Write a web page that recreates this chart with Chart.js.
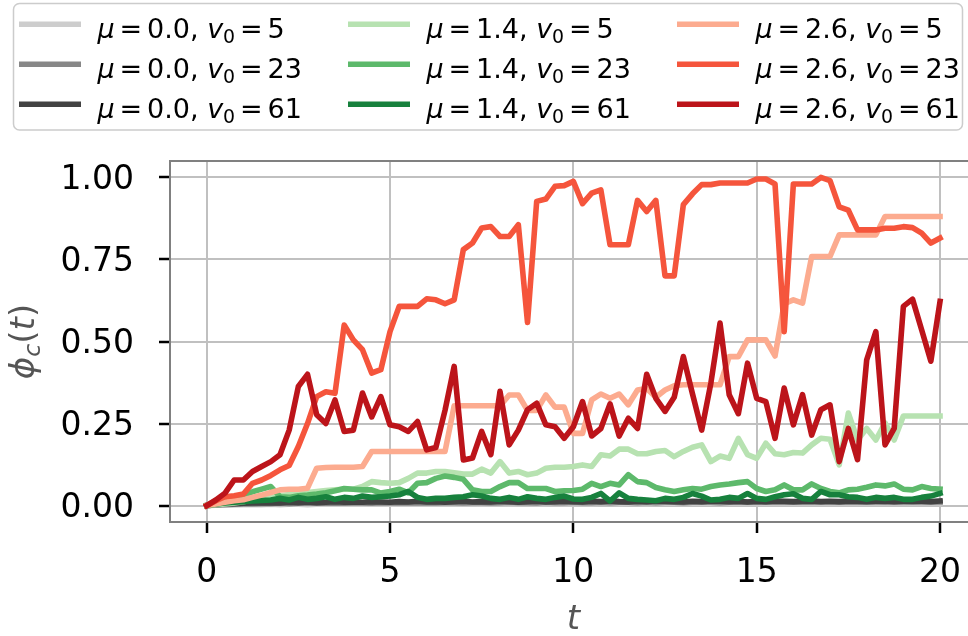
<!DOCTYPE html>
<html>
<head>
<meta charset="utf-8">
<script src="https://cdn.jsdelivr.net/npm/chart.js@4"></script>
<style>
  html, body { margin: 0; padding: 0; background: #fff; overflow: hidden; }
  #wrap { width: 968px; height: 636px; overflow: hidden; }
</style>
</head>
<body>
<div id="wrap"><canvas id="phiChart" width="1000" height="636"></canvas></div>
<script>
// time axis (t), one sample every 0.25
const times = [
  0, 0.25, 0.5, 0.75, 1, 1.25, 1.5, 1.75, 2, 2.25,
  2.5, 2.75, 3, 3.25, 3.5, 3.75, 4, 4.25, 4.5, 4.75,
  5, 5.25, 5.5, 5.75, 6, 6.25, 6.5, 6.75, 7, 7.25,
  7.5, 7.75, 8, 8.25, 8.5, 8.75, 9, 9.25, 9.5, 9.75,
  10, 10.25, 10.5, 10.75, 11, 11.25, 11.5, 11.75, 12, 12.25,
  12.5, 12.75, 13, 13.25, 13.5, 13.75, 14, 14.25, 14.5, 14.75,
  15, 15.25, 15.5, 15.75, 16, 16.25, 16.5, 16.75, 17, 17.25,
  17.5, 17.75, 18, 18.25, 18.5, 18.75, 19, 19.25, 19.5, 19.75,
  20
];

const muLabels = ['0.0', '1.4', '2.6'];
const v0Labels = [5, 23, 61];

// mu = 0.0
const phiMu0V5 = [
  0, 0.001, 0.002, 0.002, 0.003, 0.003, 0.003, 0.004, 0.003, 0.004,
  0.004, 0.003, 0.004, 0.005, 0.004, 0.004, 0.005, 0.004, 0.005, 0.005,
  0.004, 0.005, 0.005, 0.006, 0.005, 0.005, 0.006, 0.005, 0.006, 0.006,
  0.005, 0.006, 0.006, 0.005, 0.006, 0.007, 0.006, 0.006, 0.007, 0.006,
  0.006, 0.007, 0.006, 0.007, 0.007, 0.006, 0.007, 0.007, 0.006, 0.007,
  0.007, 0.008, 0.007, 0.007, 0.008, 0.007, 0.007, 0.008, 0.007, 0.008,
  0.008, 0.007, 0.008, 0.008, 0.007, 0.008, 0.008, 0.009, 0.008, 0.008,
  0.009, 0.008, 0.008, 0.009, 0.008, 0.009, 0.009, 0.008, 0.009, 0.009,
  0.009
];
const phiMu0V23 = [
  0, 0.002, 0.003, 0.004, 0.005, 0.005, 0.006, 0.006, 0.007, 0.006,
  0.007, 0.007, 0.008, 0.007, 0.008, 0.007, 0.008, 0.008, 0.007, 0.009,
  0.008, 0.008, 0.009, 0.008, 0.009, 0.008, 0.009, 0.009, 0.008, 0.009,
  0.009, 0.008, 0.009, 0.01, 0.009, 0.009, 0.008, 0.01, 0.009, 0.009,
  0.01, 0.009, 0.009, 0.01, 0.009, 0.01, 0.01, 0.009, 0.01, 0.009,
  0.01, 0.01, 0.009, 0.01, 0.011, 0.01, 0.009, 0.01, 0.01, 0.011,
  0.01, 0.01, 0.011, 0.01, 0.01, 0.011, 0.01, 0.011, 0.011, 0.01,
  0.011, 0.01, 0.011, 0.011, 0.01, 0.011, 0.011, 0.01, 0.011, 0.011,
  0.011
];
const phiMu0V61 = [
  0, 0.003, 0.005, 0.006, 0.007, 0.008, 0.008, 0.009, 0.008, 0.01,
  0.009, 0.011, 0.009, 0.01, 0.012, 0.01, 0.011, 0.01, 0.012, 0.011,
  0.01, 0.012, 0.011, 0.013, 0.011, 0.012, 0.01, 0.012, 0.013, 0.011,
  0.012, 0.011, 0.013, 0.012, 0.01, 0.012, 0.013, 0.011, 0.012, 0.013,
  0.012, 0.011, 0.013, 0.012, 0.014, 0.012, 0.011, 0.013, 0.012, 0.014,
  0.013, 0.012, 0.011, 0.013, 0.012, 0.014, 0.013, 0.012, 0.013, 0.011,
  0.013, 0.012, 0.014, 0.013, 0.012, 0.013, 0.014, 0.012, 0.013, 0.012,
  0.014, 0.013, 0.012, 0.013, 0.014, 0.012, 0.013, 0.014, 0.013, 0.012,
  0.014
];

// mu = 1.4
const phiMu14V5 = [
  0, 0.003, 0.005, 0.008, 0.012, 0.017, 0.022, 0.026, 0.03, 0.034,
  0.038, 0.04, 0.043, 0.046, 0.048, 0.05, 0.05, 0.058, 0.073, 0.07,
  0.068, 0.07, 0.083, 0.099, 0.099, 0.104, 0.104, 0.1, 0.096, 0.096,
  0.111, 0.099, 0.134, 0.099, 0.104, 0.094, 0.099, 0.114, 0.117, 0.117,
  0.119, 0.124, 0.119, 0.155, 0.151, 0.172, 0.172, 0.158, 0.158, 0.165,
  0.168, 0.149, 0.165, 0.178, 0.185, 0.134, 0.151, 0.144, 0.205, 0.155,
  0.144, 0.19, 0.158, 0.155, 0.162, 0.16, 0.185, 0.205, 0.202, 0.124,
  0.282, 0.2, 0.235, 0.2, 0.252, 0.2, 0.273, 0.273, 0.273, 0.273,
  0.273
];
const phiMu14V23 = [
  0, 0.005, 0.012, 0.022, 0.032, 0.042, 0.05, 0.058, 0.027, 0.025,
  0.03, 0.032, 0.035, 0.039, 0.045, 0.052, 0.05, 0.048, 0.048, 0.038,
  0.043, 0.05, 0.039, 0.068, 0.07, 0.083, 0.09, 0.086, 0.08, 0.048,
  0.043, 0.043, 0.058, 0.07, 0.07, 0.052, 0.052, 0.052, 0.043, 0.045,
  0.046, 0.05, 0.068, 0.058, 0.068, 0.063, 0.094, 0.073, 0.07, 0.055,
  0.048, 0.043, 0.048, 0.052, 0.05, 0.058, 0.063, 0.066, 0.07, 0.073,
  0.052, 0.043, 0.048, 0.063, 0.048, 0.048, 0.066, 0.052, 0.043, 0.039,
  0.048, 0.05, 0.056, 0.063, 0.06, 0.066, 0.05, 0.048, 0.058, 0.052,
  0.05
];
const phiMu14V61 = [
  0, 0.005, 0.008, 0.01, 0.012, 0.014, 0.016, 0.017, 0.022, 0.017,
  0.025, 0.019, 0.022, 0.027, 0.019, 0.025, 0.022, 0.029, 0.025, 0.027,
  0.029, 0.033, 0.043, 0.025, 0.019, 0.022, 0.022, 0.025, 0.027, 0.033,
  0.029, 0.022, 0.019, 0.025, 0.019, 0.027, 0.022, 0.019, 0.025, 0.029,
  0.02, 0.019, 0.025, 0.037, 0.014, 0.039, 0.022, 0.019, 0.017, 0.015,
  0.022, 0.019, 0.025, 0.037, 0.029, 0.017, 0.019, 0.025, 0.022, 0.037,
  0.022, 0.019, 0.027, 0.033, 0.036, 0.022, 0.019, 0.043, 0.033, 0.033,
  0.027, 0.025, 0.019, 0.025, 0.022, 0.025, 0.019, 0.019, 0.025, 0.029,
  0.037
];

// mu = 2.6
const phiMu26V5 = [
  0, 0.005, 0.01, 0.015, 0.018, 0.025, 0.032, 0.04, 0.048, 0.05,
  0.05, 0.053, 0.114, 0.116, 0.117, 0.117, 0.117, 0.119, 0.165, 0.165,
  0.165, 0.165, 0.165, 0.165, 0.165, 0.165, 0.165, 0.304, 0.304, 0.304,
  0.304, 0.304, 0.304, 0.337, 0.337, 0.29, 0.29, 0.337, 0.3, 0.3,
  0.22, 0.22, 0.322, 0.34, 0.327, 0.34, 0.307, 0.352, 0.357, 0.33,
  0.352, 0.365, 0.368, 0.368, 0.368, 0.368, 0.368, 0.454, 0.454, 0.505,
  0.505, 0.505, 0.456, 0.615, 0.627, 0.617, 0.759, 0.759, 0.759, 0.825,
  0.825, 0.825, 0.825, 0.825, 0.881, 0.881, 0.881, 0.881, 0.881, 0.881,
  0.881
];
const phiMu26V23 = [
  0, 0.015, 0.027, 0.03, 0.035, 0.068, 0.078, 0.092, 0.109, 0.122,
  0.18, 0.25, 0.332, 0.347, 0.342, 0.55, 0.505, 0.475, 0.404, 0.414,
  0.53, 0.607, 0.607, 0.607, 0.63, 0.627, 0.615, 0.627, 0.78, 0.8,
  0.846, 0.85, 0.82, 0.82, 0.856, 0.558, 0.927, 0.934, 0.973, 0.975,
  0.988, 0.92, 0.952, 0.962, 0.795, 0.795, 0.795, 0.93, 0.896, 0.93,
  0.7, 0.7, 0.917, 0.95, 0.978, 0.978, 0.983, 0.983, 0.983, 0.983,
  0.995, 0.995, 0.98, 0.53, 0.98, 0.98, 0.98, 1.0, 0.99, 0.91,
  0.9, 0.84, 0.84, 0.84, 0.845, 0.845, 0.85, 0.847, 0.83, 0.8,
  0.815
];
const phiMu26V61 = [
  0, 0.017, 0.038, 0.078, 0.078, 0.104, 0.119, 0.134, 0.155, 0.23,
  0.363, 0.4, 0.277, 0.25, 0.322, 0.226, 0.23, 0.343, 0.27, 0.332,
  0.246, 0.24, 0.226, 0.256, 0.17, 0.177, 0.29, 0.424, 0.139, 0.145,
  0.226, 0.155, 0.348, 0.185, 0.23, 0.292, 0.312, 0.246, 0.24, 0.205,
  0.24, 0.317, 0.212, 0.235, 0.31, 0.212, 0.266, 0.235, 0.4, 0.327,
  0.287, 0.33, 0.454, 0.34, 0.23, 0.373, 0.556, 0.338, 0.28, 0.434,
  0.327, 0.317, 0.205, 0.358, 0.246, 0.338, 0.215, 0.292, 0.307, 0.134,
  0.235, 0.14, 0.444, 0.53, 0.185, 0.235, 0.607, 0.629, 0.535, 0.44,
  0.622
];

const xTicks = [0, 5, 10, 15, 20];
const yTicks = [0, 0.25, 0.5, 0.75, 1];
const yTickLabels = ['0.00', '0.25', '0.50', '0.75', '1.00'];

const greyColors = ['#cdcdcd', '#878787', '#424242'];
const greenColors = ['#b7e2b1', '#5db96b', '#17813d'];
const redColors = ['#fcab8f', '#f5553c', '#bc141a'];

// legend order: column = mu, row = v0
const series = [
  { mu: 0, v: 0, data: phiMu0V5, color: greyColors[0] },
  { mu: 0, v: 1, data: phiMu0V23, color: greyColors[1] },
  { mu: 0, v: 2, data: phiMu0V61, color: greyColors[2] },
  { mu: 1, v: 0, data: phiMu14V5, color: greenColors[0] },
  { mu: 1, v: 1, data: phiMu14V23, color: greenColors[1] },
  { mu: 1, v: 2, data: phiMu14V61, color: greenColors[2] },
  { mu: 2, v: 0, data: phiMu26V5, color: redColors[0] },
  { mu: 2, v: 1, data: phiMu26V23, color: redColors[1] },
  { mu: 2, v: 2, data: phiMu26V61, color: redColors[2] }
];

const LINE_W = 5.6;
const FONT = '"DejaVu Sans", sans-serif';

// chart.js paints dataset 0 last, so reverse to keep the later series on top
const datasets = series.slice().reverse().map(s => ({
  label: 'mu=' + muLabels[s.mu] + ', v0=' + v0Labels[s.v],
  data: times.map((t, i) => ({ x: t, y: s.data[i] })),
  borderColor: s.color,
  backgroundColor: s.color,
  borderWidth: LINE_W,
  pointRadius: 0,
  tension: 0,
  fill: false,
  borderJoinStyle: 'round',
  borderCapStyle: 'square'
}));

// draws a run of pieces: [text, style]; style 'i' italic, 's' subscript, 'g' gap in em
function mathWidth(ctx, parts, size) {
  let w = 0;
  for (const [txt, st] of parts) {
    if (st === 'g') { w += txt * size; continue; }
    const fs = st.includes('s') ? size * 0.7 : size;
    ctx.font = (st.includes('i') ? 'italic ' : '') + fs + 'px ' + FONT;
    w += ctx.measureText(txt).width;
  }
  return w;
}
function drawMath(ctx, parts, x, y, size) {
  for (const [txt, st] of parts) {
    if (st === 'g') { x += txt * size; continue; }
    const sub = st.includes('s');
    const fs = sub ? size * 0.7 : size;
    ctx.font = (st.includes('i') ? 'italic ' : '') + fs + 'px ' + FONT;
    ctx.fillText(txt, x, sub ? y + size * 0.19 : y);
    x += ctx.measureText(txt).width;
  }
  return x;
}

const decorations = {
  id: 'decorations',
  afterDatasetsDraw(chart) {
    const { ctx, chartArea: a } = chart;
    ctx.save();
    ctx.strokeStyle = '#808080';
    ctx.lineWidth = 2;
    ctx.strokeRect(a.left, a.top, a.right - a.left, a.bottom - a.top);
    ctx.restore();
  },
  afterDraw(chart) {
    const { ctx, chartArea: a } = chart;
    ctx.save();

    // legend frame
    ctx.beginPath();
    ctx.roundRect(13.5, 3.5, 949, 126.5, 6);
    ctx.fillStyle = 'rgba(255,255,255,0.8)';
    ctx.fill();
    ctx.strokeStyle = '#cccccc';
    ctx.lineWidth = 1.5;
    ctx.stroke();

    // legend entries
    const size = 27, gap = 0.18;
    ctx.textBaseline = 'alphabetic';
    ctx.textAlign = 'left';
    series.forEach(s => {
      const x0 = 19 + s.mu * 329;
      const base = 37.5 + s.v * 40;
      ctx.strokeStyle = s.color;
      ctx.lineWidth = LINE_W;
      ctx.lineCap = 'butt';
      ctx.beginPath();
      ctx.moveTo(x0, base - 13.3);
      ctx.lineTo(x0 + 62, base - 13.3);
      ctx.stroke();
      ctx.fillStyle = '#000';
      drawMath(ctx, [
        ['\u03bc', 'i'], [gap, 'g'], ['=', 'r'], [gap, 'g'], [muLabels[s.mu], 'r'],
        [', ', 'r'], ['v', 'i'], ['0', 's'], [gap, 'g'], ['=', 'r'], [gap, 'g'],
        [String(v0Labels[s.v]), 'r']
      ], x0 + 78.5, base, size);
    });

    // axis titles
    ctx.fillStyle = '#555555';
    const tSize = 34;
    const xParts = [['t', 'i']];
    const xw = mathWidth(ctx, xParts, tSize);
    drawMath(ctx, xParts, (a.left + a.right) / 2 - xw / 2, 629, tSize);

    const yParts = [['\u03d5', 'i'], ['c', 'is'], ['(', 'r'], ['t', 'i'], [')', 'r']];
    const yw = mathWidth(ctx, yParts, tSize);
    ctx.translate(34, (a.top + a.bottom) / 2);
    ctx.rotate(-Math.PI / 2);
    drawMath(ctx, yParts, -yw / 2, 0, tSize);
    ctx.restore();
  }
};

new Chart(document.getElementById('phiChart'), {
  type: 'line',
  data: { datasets },
  options: {
    responsive: false,
    animation: false,
    events: [],
    layout: { padding: { top: 161, right: 23.3, left: 0, bottom: 0 } },
    plugins: { legend: { display: false }, tooltip: { enabled: false } },
    scales: {
      x: {
        type: 'linear',
        min: -1,
        max: 21,
        afterBuildTicks: s => { s.ticks = xTicks.map(v => ({ value: v })); },
        afterFit: s => { s.height = 114; },
        border: { display: false },
        grid: { color: '#c0c0c0', lineWidth: 2, tickColor: '#000', tickWidth: 2.5, tickLength: 11 },
        ticks: {
          autoSkip: false,
          maxRotation: 0,
          padding: 21,
          color: '#000',
          font: { family: FONT, size: 33 },
          callback: v => String(v)
        }
      },
      y: {
        type: 'linear',
        min: -0.05,
        max: 1.05,
        afterBuildTicks: s => { s.ticks = yTicks.map(v => ({ value: v })); },
        afterFit: s => { s.width = 170; },
        border: { display: false },
        grid: { color: '#c0c0c0', lineWidth: 2, tickColor: '#000', tickWidth: 2.5, tickLength: 11 },
        ticks: {
          autoSkip: false,
          padding: 25,
          labelOffset: 3,
          color: '#000',
          font: { family: FONT, size: 33 },
          callback: v => yTickLabels[yTicks.indexOf(v)]
        }
      }
    }
  },
  plugins: [decorations]
});
</script>
</body>
</html>
